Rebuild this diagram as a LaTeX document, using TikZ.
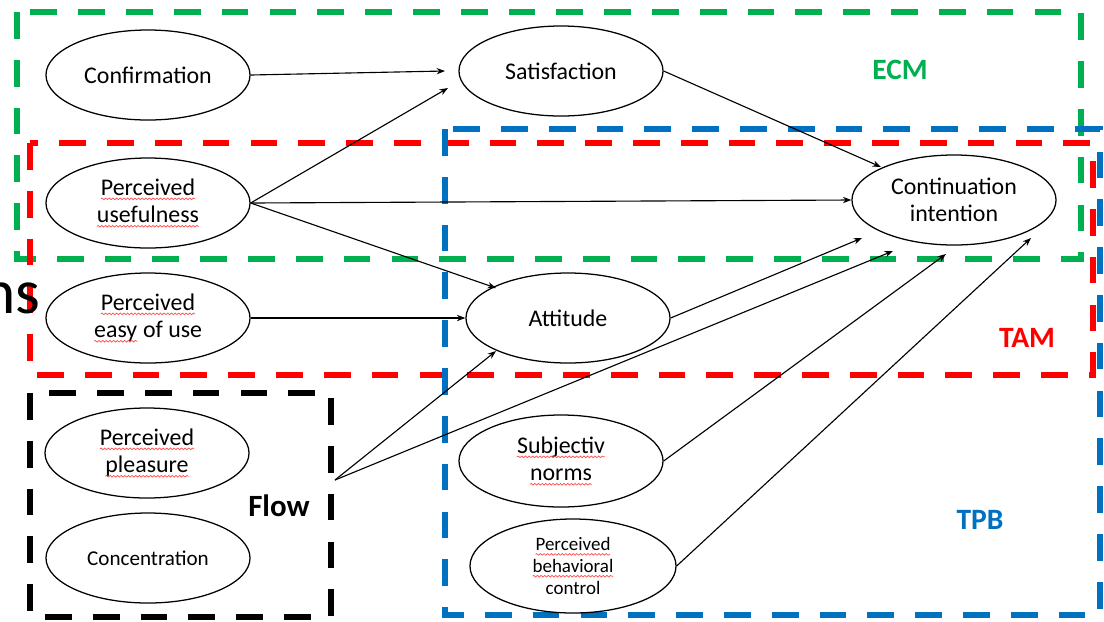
\documentclass[tikz,border=0pt]{standalone}
\usepackage{fontspec}
\setmainfont{Carlito}
\usetikzlibrary{shapes.geometric,arrows.meta,decorations.pathmorphing}

\definecolor{ecmgreen}{RGB}{0,176,80}
\definecolor{tamred}{RGB}{255,0,0}
\definecolor{tpbblue}{RGB}{0,112,192}

% red wavy underline for flagged words
\newcommand\wavy[1]{\tikz[baseline=(w.base)]{%
	\node[shape=rectangle, draw=none, fill=none, minimum width=0pt, minimum height=0pt, inner sep=0pt, outer sep=0pt, align=left] (w) {#1};
	\draw[red!70, line width=0.5pt, decorate, decoration={snake, amplitude=0.6pt, segment length=2.6pt}] ([yshift=-2.6pt]w.base west) -- ([yshift=-2.6pt]w.base east);}}

\begin{document}
\begin{tikzpicture}[x=0.025cm,y=-0.025cm,
	construct/.style={draw, ellipse, line width=0.9pt, minimum width=5.1cm, minimum height=2.25cm, inner sep=0pt, align=center, font=\fontsize{17}{19.5}\selectfont},
	modelbox/.style={line width=3.6pt, dash pattern=on 19pt off 15pt},
	modellabel/.style={font=\fontsize{21}{25}\selectfont\bfseries},
	link/.style={line width=0.8pt, -{Stealth[length=6pt,width=4.5pt]}}]
	\useasboundingbox (0,0) rectangle (1104,621);
	\clip (0,0) rectangle (1104,621);

	% Model boundaries
	\draw[modelbox, ecmgreen] (17,12) rectangle (1081,259);
	\draw[modelbox, tamred] (30,143) rectangle (1093,375);
	\draw[modelbox, black] (30,393) rectangle (331,617);
	\draw[modelbox, tpbblue] (445,129) rectangle (1100,615);

	% Model names
	\node[modellabel, ecmgreen] (ecm) at (900,70) {ECM};
	\node[modellabel, tamred] (tam) at (1027,338) {TAM};
	\node[modellabel, tpbblue] (tpb) at (980,520) {TPB};
	\node[modellabel, font=\fontsize{22}{26}\selectfont\bfseries] (flow) at (279,506) {Flow};

	% Leftover text at the edge
	\node[anchor=base east, font=\fontsize{45}{50}\selectfont] (ns) at (45,313) {ns};

	% Constructs
	\node[construct] (conf) at (148,75) {Confirmation};
	\node[construct] (pu) at (148,203) {\wavy{Perceived}\\\wavy{usefulness}};
	\node[construct] (peou) at (148,318) {\wavy{Perceived}\\\wavy{easy} of use};
	\node[construct] (pp) at (147,453) {\wavy{Perceived}\\\wavy{pleasure}};
	\node[construct, font=\fontsize{15}{18}\selectfont] (conc) at (148,558) {Concentration};
	\node[construct] (sat) at (561,71) {Satisfaction};
	\node[construct] (att) at (568,318) {Attitude};
	\node[construct] (ci) at (954,200) {Continuation\\intention};
	\node[construct, minimum height=2.3cm] (sn) at (561,461) {\wavy{Subjectiv}\\\wavy{norms}};
	\node[construct, minimum width=5.15cm, minimum height=2.35cm, font=\fontsize{13.5}{15.5}\selectfont] (pbc) at (573,566) {\wavy{Perceived}\\\wavy{behavioral}\\control};

	% Arrow ends
	\coordinate (flowout) at (335,480);
	\coordinate (sat-in1) at (445,71);
	\coordinate (sat-in2) at (448,88);
	\coordinate (att-in1) at (496,288);
	\coordinate (att-in2) at (496,351);
	\coordinate (ci-in1) at (881,167);
	\coordinate (ci-in2) at (862,238);
	\coordinate (ci-in3) at (893,251);
	\coordinate (ci-in4) at (946,254);
	\coordinate (ci-in5) at (1031,238);

	% Paths
	\draw[link] (conf.east) -- (sat-in1);
	\draw[link] (pu.east) -- (sat-in2);
	\draw[link] (pu.east) -- (ci.west);
	\draw[link] (pu.east) -- (att-in1);
	\draw[link] (peou.east) -- (att.west);
	\draw[link] (sat.east) -- (ci-in1);
	\draw[link] (att.east) -- (ci-in2);
	\draw[link] (flowout) -- (att-in2);
	\draw[link] (flowout) -- (ci-in3);
	\draw[link] (sn.east) -- (ci-in4);
	\draw[link] (pbc.east) -- (ci-in5);

\end{tikzpicture}
\end{document}
